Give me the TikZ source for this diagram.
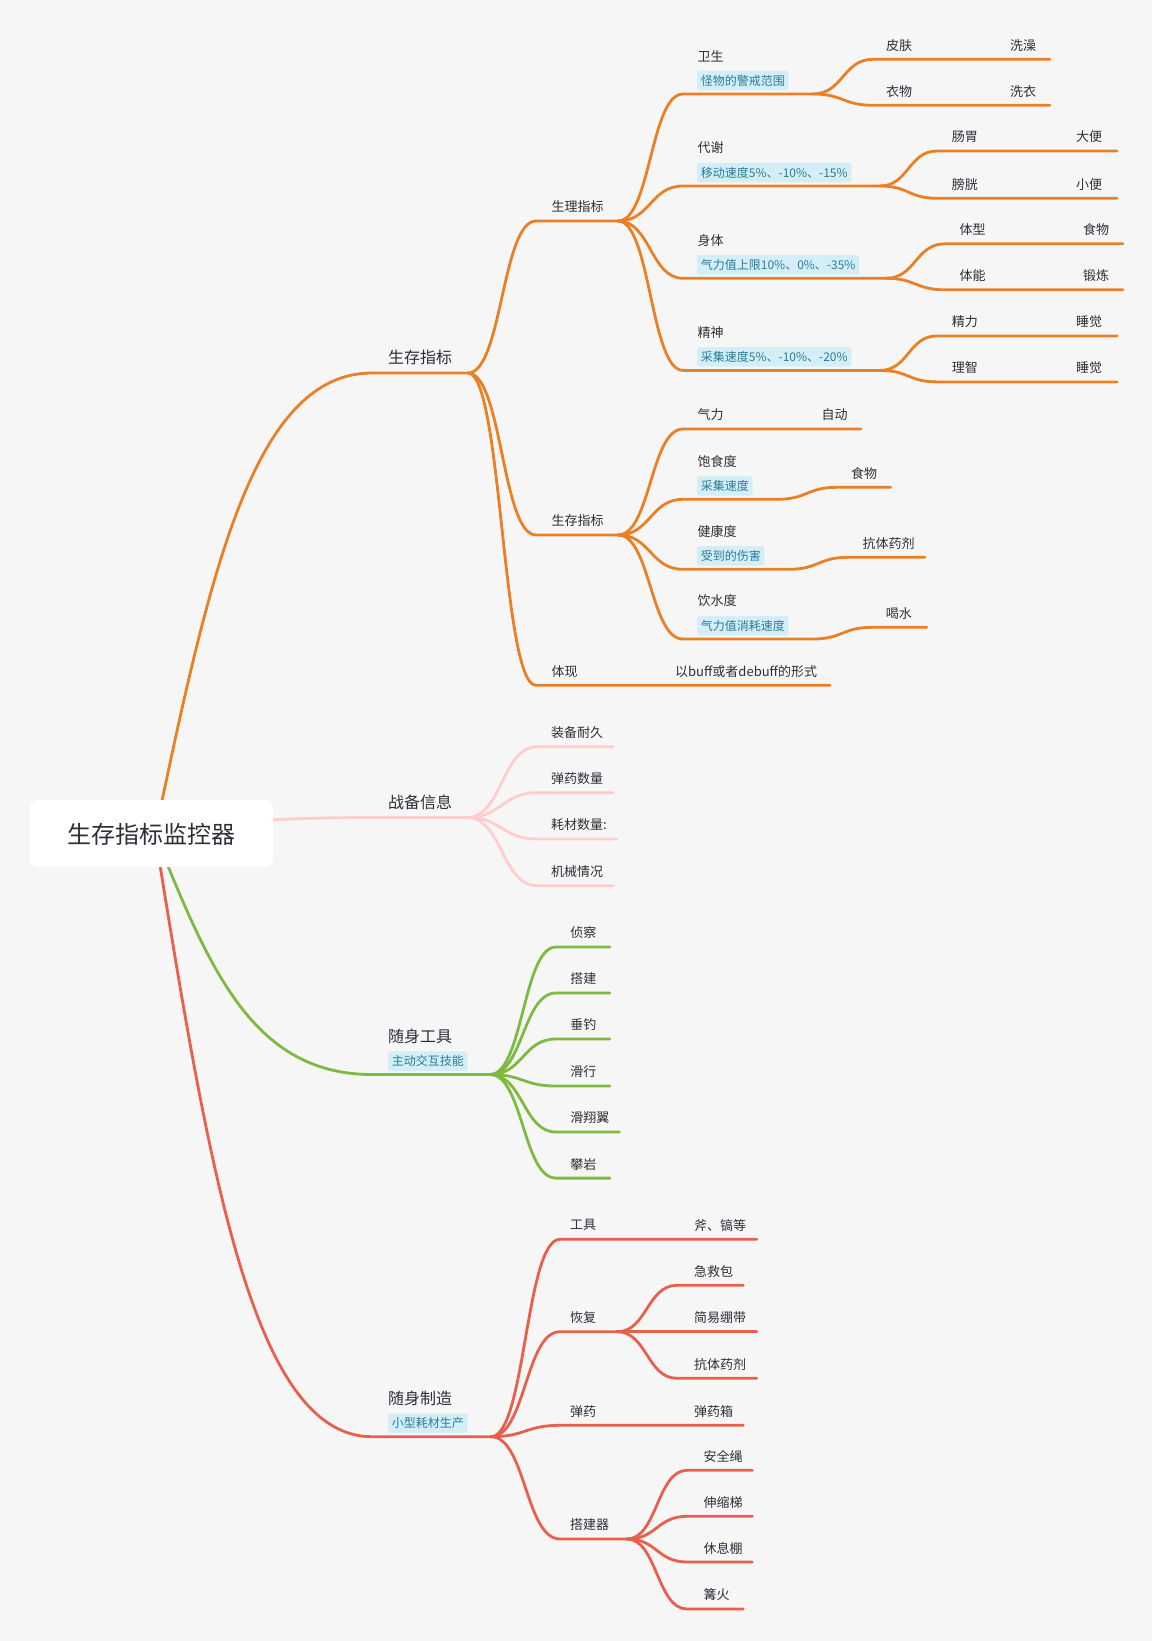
\documentclass[tikz,border=0pt]{standalone}
\usepackage{fontspec}
\setmainfont{Noto Sans CJK SC}
\usetikzlibrary{calc}
\definecolor{bgc}{HTML}{F6F6F6}
\definecolor{orng}{HTML}{EB7F24}
\definecolor{pnk}{HTML}{FFCDCB}
\definecolor{grn}{HTML}{7EBA3F}
\definecolor{rd}{HTML}{E8604B}
\definecolor{tagbg}{HTML}{D3EEF7}
\definecolor{tagtx}{HTML}{2B7C97}
\definecolor{txt}{HTML}{2E2E38}
\tikzset{
  ln/.style={line width=2.8pt, line cap=round, line join=round},
  brc/.style={to path={let \p1=(\tikztostart),\p2=(\tikztotarget),
      \p3=($(\tikztostart)!0.5!(\tikztotarget)$) in
      .. controls (\x3,\y1) and (\x3,\y2) .. (\tikztotarget)}},
  rootc/.style={to path={let \p1=(\tikztostart),\p2=(\tikztotarget),
      \p3=($(\tikztostart)!0.25!(\tikztotarget)$),
      \p4=($(\tikztostart)!0.56!(\tikztotarget)$),
      \p5=($(\tikztostart)!0.45!(\tikztotarget)$) in
      .. controls (\x3,\y4) and (\x5,\y2) .. (\tikztotarget)}},
  l1/.style={anchor=west, inner sep=0pt, text=txt, font=\fontsize{16}{16}\selectfont},
  l2/.style={anchor=west, inner sep=0pt, text=txt, font=\fontsize{13}{13}\selectfont},
  tg/.style={anchor=west, inner xsep=3.7pt, inner ysep=0pt, minimum height=19.5pt,
      fill=tagbg, text=tagtx, rounded corners=2.5pt, font=\fontsize{12}{12}\selectfont},
  rootbox/.style={fill=white, rounded corners=8pt},
}
\begin{document}
\begin{tikzpicture}[x=1pt,y=-1pt]
\fill[bgc] (0,0) rectangle (1152,1641);
\useasboundingbox (0,0) rectangle (1152,1641);

% ---------- coordinates ----------
\coordinate (R) at (155,834);
\coordinate (Aus) at (372,373);    \coordinate (Aj) at (468,373);
\coordinate (Bus) at (372,817.5);  \coordinate (Bj) at (467,817.5);
\coordinate (Cus) at (372,1074.5); \coordinate (Cj) at (490,1074.5);
\coordinate (Dus) at (372,1436.7); \coordinate (Dj) at (491,1436.7);

% A children
\coordinate (A1s) at (536,221);   \coordinate (A1j) at (618,221);
\coordinate (A2s) at (536,535);   \coordinate (A2j) at (618,535);
\coordinate (A3s) at (536,685.3); \coordinate (A3e) at (830,685.3);
% A1 children
\coordinate (W1s) at (683,94);    \coordinate (W1j) at (813,94);
\coordinate (W2s) at (683,186);   \coordinate (W2j) at (880,186);
\coordinate (W3s) at (683,278.3); \coordinate (W3j) at (886,278.3);
\coordinate (W4s) at (683,370.4); \coordinate (W4j) at (880,370.4);
\coordinate (W11s) at (873,59.3);  \coordinate (W11e) at (1050,59.3);
\coordinate (W12s) at (873,105.3); \coordinate (W12e) at (1050,105.3);
\coordinate (W21s) at (937,151);   \coordinate (W21e) at (1117,151);
\coordinate (W22s) at (937,198.3); \coordinate (W22e) at (1117,198.3);
\coordinate (W31s) at (945,243.8); \coordinate (W31e) at (1123,243.8);
\coordinate (W32s) at (945,289.8); \coordinate (W32e) at (1123,289.8);
\coordinate (W41s) at (937,335.9); \coordinate (W41e) at (1117,335.9);
\coordinate (W42s) at (937,381.9); \coordinate (W42e) at (1117,381.9);
% A2 children
\coordinate (S1s) at (683,429);   \coordinate (S1e) at (861,429);
\coordinate (S2s) at (683,499.3); \coordinate (S2j) at (777,499.3);
\coordinate (S3s) at (683,569.3); \coordinate (S3j) at (789,569.3);
\coordinate (S4s) at (683,639);   \coordinate (S4j) at (813,639);
\coordinate (S21s) at (837,487.3); \coordinate (S21e) at (890.7,487.3);
\coordinate (S31s) at (848,557.3); \coordinate (S31e) at (925,557.3);
\coordinate (S41s) at (872,627.3); \coordinate (S41e) at (926.7,627.3);
% B children
\coordinate (B1s) at (537,746.7); \coordinate (B1e) at (613.3,746.7);
\coordinate (B2s) at (537,792.7); \coordinate (B2e) at (613.3,792.7);
\coordinate (B3s) at (537,839);   \coordinate (B3e) at (616.7,839);
\coordinate (B4s) at (537,885.7); \coordinate (B4e) at (613.3,885.7);
% C children
\coordinate (C1s) at (556,947);    \coordinate (C1e) at (610,947);
\coordinate (C2s) at (556,993);    \coordinate (C2e) at (610,993);
\coordinate (C3s) at (556,1039);   \coordinate (C3e) at (610,1039);
\coordinate (C4s) at (556,1086);   \coordinate (C4e) at (610,1086);
\coordinate (C5s) at (556,1132);   \coordinate (C5e) at (619.4,1132);
\coordinate (C6s) at (556,1178.1); \coordinate (C6e) at (610,1178.1);
% D children
\coordinate (D1s) at (560,1239.3); \coordinate (D1e) at (756.7,1239.3);
\coordinate (D2s) at (560,1331.7); \coordinate (D2j) at (617,1331.7);
\coordinate (D3s) at (560,1425.3); \coordinate (D3e) at (743.3,1425.3);
\coordinate (D4s) at (560,1539);   \coordinate (D4j) at (627,1539);
\coordinate (D21s) at (677,1285.3); \coordinate (D21e) at (743.3,1285.3);
\coordinate (D22s) at (677,1331.7); \coordinate (D22e) at (756.7,1331.7);
\coordinate (D23s) at (677,1378.3); \coordinate (D23e) at (756.7,1378.3);
\coordinate (D41s) at (687,1470.3); \coordinate (D41e) at (752.3,1470.3);
\coordinate (D42s) at (687,1516.3); \coordinate (D42e) at (752.3,1516.3);
\coordinate (D43s) at (687,1562);   \coordinate (D43e) at (752.3,1562);
\coordinate (D44s) at (687,1609);   \coordinate (D44e) at (743.3,1609);

% ---------- connectors ----------
\begin{scope}[ln, draw=orng]
\draw (R) to[rootc] (Aus) -- (Aj);
\draw (Aj) to[brc] (A1s) -- (A1j);
\draw (Aj) to[brc] (A2s) -- (A2j);
\draw (Aj) to[brc] (A3s) -- (A3e);
\draw (A1j) to[brc] (W1s) -- (W1j);
\draw (A1j) to[brc] (W2s) -- (W2j);
\draw (A1j) to[brc] (W3s) -- (W3j);
\draw (A1j) to[brc] (W4s) -- (W4j);
\draw (W1j) to[brc] (W11s) -- (W11e);
\draw (W1j) to[brc] (W12s) -- (W12e);
\draw (W2j) to[brc] (W21s) -- (W21e);
\draw (W2j) to[brc] (W22s) -- (W22e);
\draw (W3j) to[brc] (W31s) -- (W31e);
\draw (W3j) to[brc] (W32s) -- (W32e);
\draw (W4j) to[brc] (W41s) -- (W41e);
\draw (W4j) to[brc] (W42s) -- (W42e);
\draw (A2j) to[brc] (S1s) -- (S1e);
\draw (A2j) to[brc] (S2s) -- (S2j);
\draw (A2j) to[brc] (S3s) -- (S3j);
\draw (A2j) to[brc] (S4s) -- (S4j);
\draw (S2j) to[brc] (S21s) -- (S21e);
\draw (S3j) to[brc] (S31s) -- (S31e);
\draw (S4j) to[brc] (S41s) -- (S41e);
\end{scope}
\begin{scope}[ln, draw=pnk]
\draw (R) to[rootc] (Bus) -- (Bj);
\draw (Bj) to[brc] (B1s) -- (B1e);
\draw (Bj) to[brc] (B2s) -- (B2e);
\draw (Bj) to[brc] (B3s) -- (B3e);
\draw (Bj) to[brc] (B4s) -- (B4e);
\end{scope}
\begin{scope}[ln, draw=grn]
\draw (R) to[rootc] (Cus) -- (Cj);
\draw (Cj) to[brc] (C1s) -- (C1e);
\draw (Cj) to[brc] (C2s) -- (C2e);
\draw (Cj) to[brc] (C3s) -- (C3e);
\draw (Cj) to[brc] (C4s) -- (C4e);
\draw (Cj) to[brc] (C5s) -- (C5e);
\draw (Cj) to[brc] (C6s) -- (C6e);
\end{scope}
\begin{scope}[ln, draw=rd]
\draw (R) to[rootc] (Dus) -- (Dj);
\draw (Dj) to[brc] (D1s) -- (D1e);
\draw (Dj) to[brc] (D2s) -- (D2j);
\draw (Dj) to[brc] (D3s) -- (D3e);
\draw (Dj) to[brc] (D4s) -- (D4j);
\draw (D2j) to[brc] (D21s) -- (D21e);
\draw (D2j) to[brc] (D22s) -- (D22e);
\draw (D2j) to[brc] (D23s) -- (D23e);
\draw (D4j) to[brc] (D41s) -- (D41e);
\draw (D4j) to[brc] (D42s) -- (D42e);
\draw (D4j) to[brc] (D43s) -- (D43e);
\draw (D4j) to[brc] (D44s) -- (D44e);
\end{scope}

% ---------- root ----------
\fill[rootbox] (30,800) rectangle (273,867);
\node[inner sep=0pt, text=txt, font=\fontsize{24}{24}\selectfont] (root) at (151.5,834) {生存指标监控器};

% ---------- level 1 ----------
\node[l1] (nA) at (388,357.5) {生存指标};
\node[l1] (nB) at (388,802) {战备信息};
\node[l1] (nC) at (388,1036.5) {随身工具};
\node[tg] (gC) at (388,1061) {主动交互技能};
\node[l1] (nD) at (388,1398.7) {随身制造};
\node[tg] (gD) at (388,1423.2) {小型耗材生产};

% ---------- A ----------
\node[l2] (nA1) at (551.4,207) {生理指标};
\node[l2] (nA2) at (551.4,521) {生存指标};
\node[l2] (nA3) at (551.4,671.3) {体现};
\node[l2] (nA3v) at (675,671.3) {以buff或者debuff的形式};

\node[l2] (n11) at (697.5,56) {卫生};
\node[tg] (g11) at (697,80.5) {怪物的警戒范围};
\node[l2] (n12) at (697.5,148) {代谢};
\node[tg] (g12) at (697,172.5) {移动速度5\%、-10\%、-15\%};
\node[l2] (n13) at (697.5,240.3) {身体};
\node[tg] (g13) at (697,264.8) {气力值上限10\%、0\%、-35\%};
\node[l2] (n14) at (697.5,332.4) {精神};
\node[tg] (g14) at (697,356.9) {采集速度5\%、-10\%、-20\%};

\node[l2] (n111) at (886,45.3) {皮肤};   \node[l2] (n111v) at (1010,45.3) {洗澡};
\node[l2] (n112) at (886,91.3) {衣物};   \node[l2] (n112v) at (1010,91.3) {洗衣};
\node[l2] (n121) at (951.7,137) {肠胃};  \node[l2] (n121v) at (1076,137) {大便};
\node[l2] (n122) at (951.7,184.3) {膀胱};\node[l2] (n122v) at (1076,184.3) {小便};
\node[l2] (n131) at (959.5,229.8) {体型};\node[l2] (n131v) at (1083,229.8) {食物};
\node[l2] (n132) at (959.5,275.8) {体能};\node[l2] (n132v) at (1083,275.8) {锻炼};
\node[l2] (n141) at (951.7,321.9) {精力};\node[l2] (n141v) at (1076,321.9) {睡觉};
\node[l2] (n142) at (951.7,367.9) {理智};\node[l2] (n142v) at (1076,367.9) {睡觉};

\node[l2] (n21) at (697.5,415) {气力}; \node[l2] (n21v) at (821.3,415) {自动};
\node[l2] (n22) at (697.5,461.3) {饱食度};
\node[tg] (g22) at (697,485.8) {采集速度};
\node[l2] (n23) at (697.5,531.3) {健康度};
\node[tg] (g23) at (697,555.8) {受到的伤害};
\node[l2] (n24) at (697.5,601) {饮水度};
\node[tg] (g24) at (697,625.5) {气力值消耗速度};
\node[l2] (n221) at (851,473.3) {食物};
\node[l2] (n231) at (862.3,543.3) {抗体药剂};
\node[l2] (n241) at (885.7,613.3) {喝水};

% ---------- B ----------
\node[l2] (nB1) at (551,732.7) {装备耐久};
\node[l2] (nB2) at (551,778.7) {弹药数量};
\node[l2] (nB3) at (551,825) {耗材数量:};
\node[l2] (nB4) at (551,871.7) {机械情况};

% ---------- C ----------
\node[l2] (nC1) at (570.2,933) {侦察};
\node[l2] (nC2) at (570.2,979) {搭建};
\node[l2] (nC3) at (570.2,1025) {垂钓};
\node[l2] (nC4) at (570.2,1072) {滑行};
\node[l2] (nC5) at (570.2,1118) {滑翔翼};
\node[l2] (nC6) at (570.2,1164.1) {攀岩};

% ---------- D ----------
\node[l2] (nD1) at (570,1225.3) {工具};   \node[l2] (nD1v) at (694,1225.3) {斧、镐等};
\node[l2] (nD2) at (570,1317.7) {恢复};
\node[l2] (nD3) at (570,1411.3) {弹药};   \node[l2] (nD3v) at (694,1411.3) {弹药箱};
\node[l2] (nD4) at (570,1525) {搭建器};
\node[l2] (nD21) at (694,1271.3) {急救包};
\node[l2] (nD22) at (694,1317.7) {简易绷带};
\node[l2] (nD23) at (694,1364.3) {抗体药剂};
\node[l2] (nD41) at (703.3,1456.3) {安全绳};
\node[l2] (nD42) at (703.3,1502.3) {伸缩梯};
\node[l2] (nD43) at (703.3,1548) {休息棚};
\node[l2] (nD44) at (703.3,1595) {篝火};
\end{tikzpicture}
\end{document}
